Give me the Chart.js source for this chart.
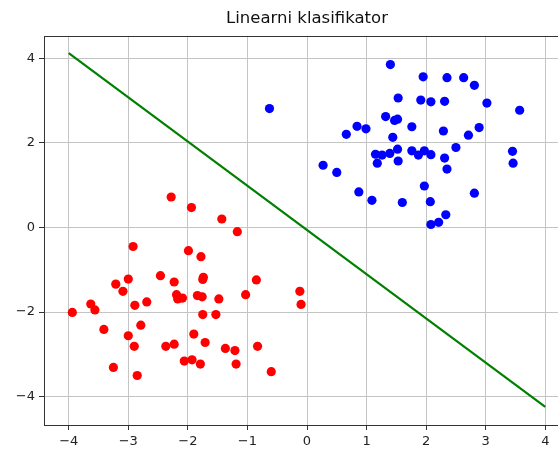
<!DOCTYPE html>
<html>
<head>
<meta charset="utf-8">
<script src="https://cdn.jsdelivr.net/npm/chart.js@4.4.0/dist/chart.umd.min.js"></script>
<style>
  html, body { margin: 0; padding: 0; background: #fff; overflow: hidden; }
  #wrap { width: 600px; height: 449px; }
</style>
</head>
<body>
<div id="wrap"><canvas id="c"></canvas></div>
<script>
// Class 1 (blue)
const blueX = [1.40, 1.95, 2.35, 2.63, 2.81, -0.63, 1.53, 1.91, 2.08, 2.31, 3.02, 3.57,
  1.32, 1.47, 1.52, 0.84, 0.99, 0.66, 1.76, 2.29, 2.89, 2.71, 1.44, 2.50, 1.52,
  1.15, 1.26, 1.39, 1.18, 1.53, 1.76, 1.87, 1.97, 2.08, 2.31, 2.35, 3.45, 3.46,
  0.27, 0.50, 1.97, 0.87, 1.09, 1.60, 2.07, 2.81, 2.33, 2.08, 2.21];
const blueY = [3.85, 3.56, 3.54, 3.54, 3.36, 2.81, 3.06, 3.01, 2.97, 2.98, 2.94, 2.77,
  2.62, 2.53, 2.56, 2.39, 2.33, 2.20, 2.38, 2.28, 2.36, 2.18, 2.13, 1.89, 1.85,
  1.73, 1.71, 1.75, 1.52, 1.57, 1.81, 1.71, 1.81, 1.72, 1.64, 1.38, 1.80, 1.52,
  1.47, 1.30, 0.98, 0.84, 0.64, 0.59, 0.61, 0.81, 0.30, 0.07, 0.12];

// Class 2 (red)
const redX = [-2.28, -1.94, -1.43, -1.17, -2.92, -1.99, -1.78, -3.21, -3.00, -3.09,
  -2.46, -2.23, -1.74, -1.75, -0.85, -2.19, -2.17, -2.09, -1.84, -1.76, -1.48,
  -1.03, -0.12, -0.10, -3.63, -3.56, -3.94, -2.89, -2.69, -1.75, -1.53, -3.41,
  -2.79, -3.00, -1.90, -2.90, -2.37, -2.23, -1.71, -1.37, -1.21, -0.83, -2.06,
  -1.93, -1.79, -1.19, -3.25, -2.85, -0.60];
const redY = [0.72, 0.47, 0.20, -0.10, -0.45, -0.55, -0.69, -1.34, -1.22, -1.51,
  -1.14, -1.29, -1.18, -1.23, -1.24, -1.59, -1.69, -1.67, -1.61, -1.64, -1.69,
  -1.59, -1.51, -1.82, -1.81, -1.95, -2.01, -1.84, -1.76, -2.06, -2.06, -2.41,
  -2.31, -2.56, -2.52, -2.81, -2.81, -2.76, -2.72, -2.86, -2.91, -2.81, -3.16,
  -3.13, -3.23, -3.23, -3.31, -3.50, -3.41];

// Decision boundary
const lineX = [-4, 4];
const lineY = [4.12, -4.24];

const xTicks = [-4, -3, -2, -1, 0, 1, 2, 3, 4];
const yTicks = [-4, -2, 0, 2, 4];

const toPts = (xs, ys) => xs.map((x, i) => ({ x, y: ys[i] }));
const fmt = (v) => String(v).replace('-', '\u2212');

// matplotlib-style frame: stroke all four spines around the chart area
const framePlugin = {
  id: 'frame',
  afterDraw(chart) {
    const a = chart.chartArea;
    const ctx = chart.ctx;
    ctx.save();
    ctx.strokeStyle = '#333';
    ctx.lineWidth = 1;
    ctx.strokeRect(Math.round(a.left) + 0.5, Math.round(a.top) + 0.5,
      Math.round(a.right - a.left), Math.round(a.bottom - a.top));
    ctx.restore();
  },
};

const tickFont = { family: 'DejaVu Sans', size: 13 };

new Chart(document.getElementById('c'), {
  type: 'scatter',
  data: {
    datasets: [
      {
        data: toPts(blueX, blueY),
        backgroundColor: '#0000ff',
        borderWidth: 0,
        pointRadius: 4.6,
      },
      {
        data: toPts(redX, redY),
        backgroundColor: '#ff0000',
        borderWidth: 0,
        pointRadius: 4.6,
      },
      {
        type: 'line',
        data: toPts(lineX, lineY),
        borderColor: '#008000',
        borderWidth: 2.2,
        pointRadius: 0,
        fill: false,
      },
    ],
  },
  options: {
    animation: false,
    responsive: true,
    maintainAspectRatio: false,
    layout: { padding: { left: 0, right: 30, top: 0, bottom: 0 } },
    plugins: {
      legend: { display: false },
      tooltip: { enabled: false },
      title: {
        display: true,
        fullSize: false, // centre over the plot area, like matplotlib
        text: 'Linearni klasifikator',
        color: '#111',
        font: { family: 'DejaVu Sans', size: 16.5, weight: 'normal' },
        padding: { top: 9, bottom: 7 },
      },
    },
    scales: {
      x: {
        type: 'linear',
        min: -4.415,
        max: 4.415,
        afterBuildTicks: (s) => { s.ticks = xTicks.map((v) => ({ value: v })); },
        afterFit: (s) => { s.height = 24; },
        grid: { color: '#c4c4c4', lineWidth: 1, tickColor: '#333', tickLength: 5 },
        border: { display: false },
        ticks: { color: '#222', font: tickFont, padding: 4, maxRotation: 0, callback: fmt },
      },
      y: {
        type: 'linear',
        min: -4.67,
        max: 4.53,
        afterBuildTicks: (s) => { s.ticks = yTicks.map((v) => ({ value: v })); },
        afterFit: (s) => { s.width = 44; },
        grid: { color: '#c4c4c4', lineWidth: 1, tickColor: '#333', tickLength: 5 },
        border: { display: false },
        ticks: { color: '#222', font: tickFont, padding: 4, callback: fmt },
      },
    },
  },
  plugins: [framePlugin],
});
</script>
</body>
</html>
